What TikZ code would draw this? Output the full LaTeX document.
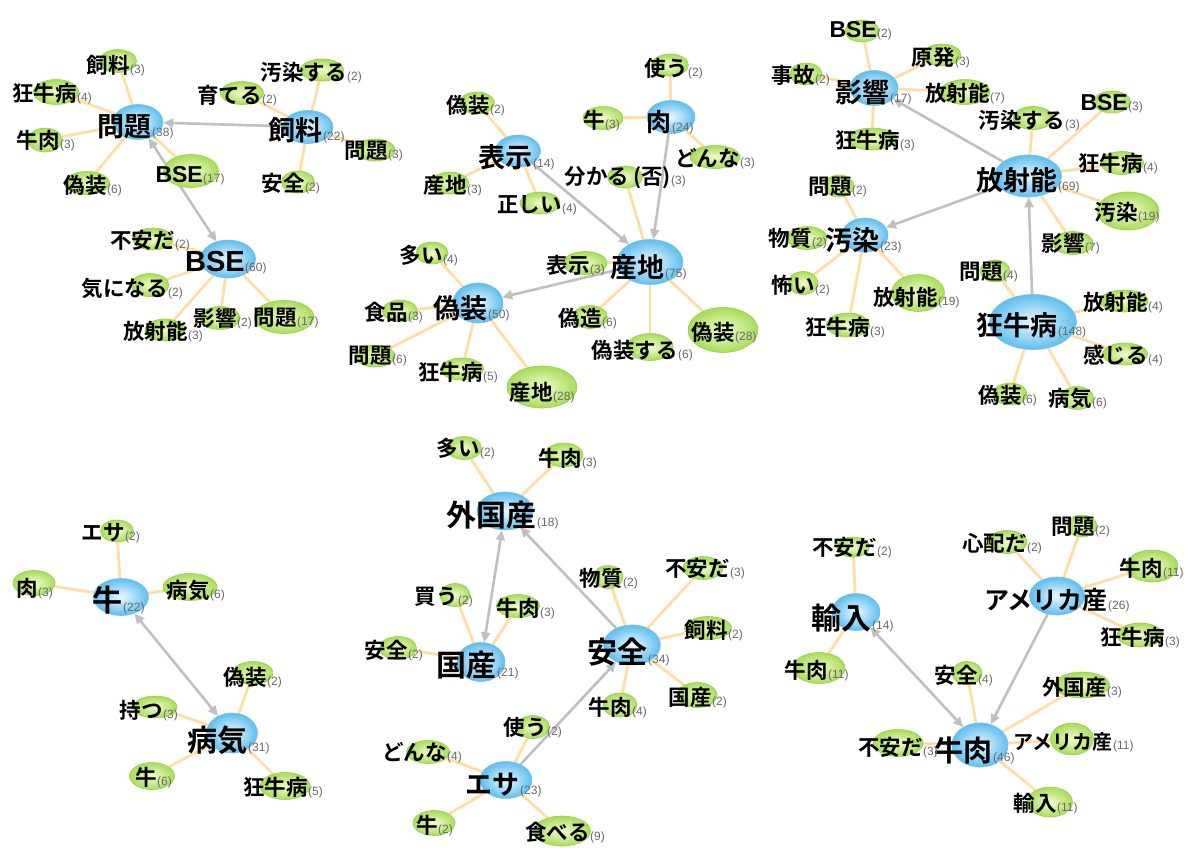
\documentclass[tikz,border=0pt]{standalone}
\usepackage{fontspec}
\usetikzlibrary{shapes.geometric,arrows.meta}
\newfontfamily\jp{Noto Sans CJK JP}[BoldFont={Noto Sans CJK JP Bold}]
\newfontfamily\lat{Liberation Sans}
\newcommand\fs[1]{\fontsize{#1}{#1}\selectfont}
\definecolor{bOut}{RGB}{95,190,238}
\definecolor{bIn}{RGB}{236,248,255}
\definecolor{bEdge}{RGB}{110,195,235}
\definecolor{gOut}{RGB}{168,220,90}
\definecolor{gIn}{RGB}{240,252,205}
\definecolor{gEdge}{RGB}{150,210,65}
\definecolor{oLine}{RGB}{255,222,165}
\definecolor{aLine}{RGB}{192,192,192}
\definecolor{cntC}{RGB}{105,105,105}
\pgfdeclarelayer{paper}
\pgfdeclarelayer{background}
\pgfdeclarelayer{fg}
\pgfsetlayers{paper,background,main,fg}
\tikzset{
  bell/.style={ellipse, inner sep=0pt, draw=bEdge, line width=0.6pt, inner color=bIn, outer color=bOut},
  gell/.style={ellipse, inner sep=0pt, draw=gEdge, line width=0.6pt, inner color=gIn, outer color=gOut},
  btxt/.style={inner sep=0pt, font=\jp\bfseries\fs{27}},
  gtxt/.style={inner sep=0pt, font=\jp\bfseries\fs{21.5}},
  ctxt/.style={inner sep=0pt, text=cntC, font=\lat\fs{12}},
  oedge/.style={draw=oLine, line width=2.8pt},
  gedge/.style={draw=aLine, line width=2.6pt, -{Triangle[length=10pt,width=9pt]}},
  gdbl/.style={draw=aLine, line width=2.6pt, {Triangle[length=10pt,width=9pt]}-{Triangle[length=10pt,width=9pt]}},
}
% name, ex, ey, w, h, junction x, text y, label, count
\newcommand\bn[9]{%
  \node[bell, minimum width=#4pt, minimum height=#5pt] (#1) at (#2,#3) {};
  \begin{pgfonlayer}{fg}
    \node[btxt, anchor=east] (#1-t) at (#6,#7) {#8};
    \node[ctxt, anchor=base west] (#1-c) at (#1-t.base east) {(#9)};
  \end{pgfonlayer}}
\newcommand\gn[9]{%
  \node[gell, minimum width=#4pt, minimum height=#5pt] (#1) at (#2,#3) {};
  \begin{pgfonlayer}{fg}
    \node[gtxt, anchor=east] (#1-t) at (#6,#7) {#8};
    \node[ctxt, anchor=base west] (#1-c) at (#1-t.base east) {(#9)};
  \end{pgfonlayer}}
\begin{document}
\begin{tikzpicture}[x=1pt,y=-1pt]
\begin{pgfonlayer}{paper}
\fill[white] (0,0) rectangle (1193,847);
\end{pgfonlayer}
\useasboundingbox (0,0) rectangle (1193,847);
% ---------- cluster 1
\bn{mondai}{138}{122}{50}{35}{152}{127}{問題}{38}
\gn{c1shiryo}{118}{61}{37}{23}{130}{65}{飼料}{3}
\gn{c1kyo}{56}{92}{45}{25}{77}{93}{狂牛病}{4}
\gn{c1gyu}{45}{140}{34}{24}{60}{140}{牛肉}{3}
\gn{c1giso}{87}{183}{45}{23}{107}{185}{偽装}{6}
\gn{c1bse}{191}{171}{55}{33}{203}{175}{\fs{23}\lat BSE}{17}
\bn{shiryo}{308}{127}{50}{33}{323}{130}{飼料}{22}
\gn{c1osen}{322}{70}{43}{22}{347}{72}{汚染する}{2}
\gn{c1sodat}{242}{93}{43}{23}{262}{95}{育てる}{2}
\gn{c1mon3}{375}{150}{40}{22}{388}{151}{問題}{3}
\gn{c1anzen}{298}{182}{33}{22}{305}{183}{安全}{2}
\bn{bse}{228}{259}{55}{38}{245}{262}{\fs{29}\lat BSE}{60}
\gn{c1fuan}{153}{239}{40}{22}{175}{240}{不安だ}{2}
\gn{c1kini}{150}{285}{38}{23}{168}{288}{気になる}{2}
\gn{c1hosha}{165}{330}{40}{22}{188}{331}{放射能}{3}
\gn{c1eikyo}{220}{318}{40}{23}{237}{318}{影響}{2}
\gn{c1mon17}{284}{317}{60}{33}{297}{318}{問題}{17}
% ---------- cluster 2
\bn{hyoji}{518}{151}{45}{32}{533}{157}{表示}{14}
\gn{c2giso2}{477}{103}{35}{22}{490}{105}{偽装}{2}
\gn{c2sanchi3}{450}{183}{37}{22}{467}{185}{産地}{3}
\gn{c2tadashii}{540}{203}{40}{22}{562}{205}{正しい}{4}
\bn{niku}{671}{117}{48}{33}{672}{122}{\fs{25}肉}{24}
\gn{c2tsukau}{670}{65}{37}{22}{688}{68}{使う}{2}
\gn{c2ushi}{603}{118}{40}{23}{605}{120}{牛}{3}
\gn{c2donna}{715}{157}{50}{23}{740}{158}{どんな}{3}
\bn{sanchi}{650}{262}{66}{45}{665}{267}{産地}{75}
\gn{c2wakaru}{625}{177}{35}{22}{671}{178}{分かる\,(否)\hspace{3pt}}{3}
\gn{c2hyoji3}{585}{263}{44}{23}{590}{265}{表示}{3}
\gn{c2gizo}{590}{317}{35}{23}{602}{318}{偽造}{6}
\gn{c2gisosuru}{650}{347}{46}{27}{678}{350}{偽装する}{6}
\gn{c2giso28}{723}{330}{70}{45}{735}{332}{偽装}{28}
\bn{giso}{478}{303}{50}{40}{488}{308}{偽装}{50}
\gn{c2ooi}{432}{253}{32}{22}{443}{255}{多い}{4}
\gn{c2shokuhin}{400}{311}{35}{22}{408}{312}{食品}{3}
\gn{c2mon6}{375}{356}{40}{22}{392}{356}{問題}{6}
\gn{c2kyo5}{462}{369}{43}{22}{483}{372}{狂牛病}{5}
\gn{c2sanchi28}{542}{387}{70}{42}{553}{392}{産地}{28}
% ---------- cluster 3
\bn{eikyo}{874}{88}{48}{35}{890}{92}{影響}{17}
\gn{c3bse}{862}{31}{34}{22}{877}{30}{\fs{23}\lat BSE}{2}
\gn{c3jiko}{806}{74}{32}{22}{815}{75}{事故}{2}
\gn{c3genpatsu}{942}{55}{38}{22}{955}{57}{原発}{3}
\gn{c3hosha7}{965}{92}{50}{25}{990}{93}{放射能}{7}
\gn{c3kyo3}{872}{139}{50}{22}{900}{140}{狂牛病}{3}
\bn{hosha}{1028}{176}{67}{42}{1058}{180}{放射能}{69}
\gn{c3osensuru}{1033}{118}{40}{23}{1065}{120}{汚染する}{3}
\gn{c3bse3}{1112}{102}{37}{22}{1128}{103}{\fs{23}\lat BSE}{3}
\gn{c3kyo4}{1122}{163}{43}{23}{1143}{163}{狂牛病}{4}
\gn{c3osen19}{1128}{211}{62}{38}{1138}{212}{汚染}{19}
\gn{c3eikyo7}{1073}{243}{40}{23}{1085}{243}{影響}{7}
\bn{osen}{865}{235}{46}{34}{880}{240}{汚染}{23}
\gn{c3mon2}{839}{186}{30}{22}{852}{187}{問題}{2}
\gn{c3busshitsu}{807}{238}{40}{23}{812}{238}{物質}{2}
\gn{c3kowai}{803}{283}{30}{23}{815}{285}{怖い}{2}
\gn{c3hosha19}{918}{293}{53}{37}{938}{297}{放射能}{19}
\gn{c3kyo3b}{848}{325}{43}{24}{870}{327}{狂牛病}{3}
\bn{kyogyu}{1033}{322}{87}{55}{1058}{325}{狂牛病}{148}
\gn{c3mon4}{995}{271}{30}{22}{1003}{272}{問題}{4}
\gn{c3hosha4}{1124}{301}{48}{22}{1148}{302}{放射能}{4}
\gn{c3kanjiru}{1125}{354}{45}{22}{1148}{355}{感じる}{4}
\gn{c3giso6}{1010}{394}{34}{22}{1022}{395}{偽装}{6}
\gn{c3byoki6}{1077}{398}{33}{23}{1092}{398}{病気}{6}
% ---------- cluster 4
\bn{ushi}{121}{597}{55}{37}{123}{600}{\fs{30}牛}{22}
\gn{c4esa}{117}{531}{33}{22}{125}{533}{エサ}{2}
\gn{c4niku}{34}{583}{42}{25}{38}{588}{肉}{3}
\gn{c4byoki}{190}{587}{54}{27}{210}{590}{病気}{6}
\bn{byoki}{232}{733}{51}{40}{248}{740}{\fs{30}病気}{31}
\gn{c4giso}{253}{673}{40}{23}{267}{677}{偽装}{2}
\gn{c4motsu}{155}{707}{44}{22}{163}{710}{持つ}{3}
\gn{c4ushi6}{152}{776}{45}{27}{157}{777}{牛}{6}
\gn{c4kyo5}{285}{786}{50}{27}{308}{787}{狂牛病}{5}
% ---------- cluster 5
\bn{gaikoku}{505}{511}{56}{38}{537}{515}{\fs{30}外国産}{18}
\gn{c5ooi}{464}{448}{35}{23}{480}{448}{多い}{2}
\gn{c5gyuniku}{564}{455}{38}{24}{582}{458}{牛肉}{3}
\bn{kokusan}{481}{662}{48}{39}{497}{665}{\fs{30}国産}{21}
\gn{c5kau}{455}{595}{30}{23}{458}{597}{買う}{2}
\gn{c5gyuniku3}{518}{606}{43}{23}{540}{608}{牛肉}{3}
\gn{c5anzen2}{398}{648}{37}{23}{408}{650}{安全}{2}
\bn{anzen}{632}{645}{57}{40}{648}{652}{\fs{30}安全}{34}
\gn{c5busshitsu}{608}{577}{30}{23}{623}{578}{物質}{2}
\gn{c5fuan}{703}{568}{40}{23}{730}{568}{不安だ}{3}
\gn{c5shiryo}{708}{628}{47}{23}{728}{630}{飼料}{2}
\gn{c5gyuniku4}{620}{705}{34}{24}{632}{707}{牛肉}{4}
\gn{c5kokusan2}{697}{695}{40}{25}{712}{697}{国産}{2}
\bn{esa}{506}{780}{52}{37}{520}{785}{エサ}{23}
\gn{c5tsukau}{533}{727}{33}{23}{547}{727}{使う}{2}
\gn{c5donna}{428}{752}{43}{23}{447}{752}{どんな}{4}
\gn{c5ushi}{434}{823}{42}{25}{438}{825}{牛}{2}
\gn{c5taberu}{562}{831}{57}{30}{590}{832}{食べる}{9}
% ---------- cluster 6
\bn{yunyu}{856}{612}{48}{37}{872}{618}{\fs{30}輸入}{14}
\gn{c6fuan}{853}{547}{33}{20}{877}{547}{不安だ}{2}
\gn{c6gyuniku11}{819}{668}{52}{31}{828}{670}{牛肉}{11}
\bn{amerika}{1057}{596}{55}{38}{1108}{600}{\fs{25}アメリカ産}{26}
\gn{c6shinpai}{1007}{542}{40}{23}{1027}{543}{心配だ}{2}
\gn{c6mon2}{1082}{526}{30}{22}{1095}{527}{問題}{2}
\gn{c6gyuniku11b}{1152}{566}{52}{32}{1163}{568}{牛肉}{11}
\gn{c6kyo3}{1140}{635}{46}{24}{1165}{637}{狂牛病}{3}
\bn{gyuniku}{980}{745}{56}{44}{993}{750}{\fs{29}牛肉}{46}
\gn{c6anzen4}{967}{673}{30}{23}{978}{675}{安全}{4}
\gn{c6gaikoku3}{1082}{685}{55}{26}{1107}{687}{外国産}{3}
\gn{c6amerika11}{1072}{739}{43}{32}{1113}{742}{\fs{20}アメリカ産}{11}
\gn{c6fuan3}{898}{743}{50}{27}{923}{747}{不安だ}{3}
\gn{c6yunyu11}{1050}{802}{45}{30}{1057}{803}{輸入}{11}
% ---------- connectors
\begin{pgfonlayer}{background}
\foreach \a/\b in {mondai/c1shiryo, mondai/c1kyo, mondai/c1gyu, mondai/c1giso, mondai/c1bse,
  shiryo/c1osen, shiryo/c1sodat, shiryo/c1mon3, shiryo/c1anzen,
  bse/c1fuan, bse/c1kini, bse/c1hosha, bse/c1eikyo, bse/c1mon17,
  hyoji/c2giso2, hyoji/c2sanchi3, hyoji/c2tadashii,
  niku/c2tsukau, niku/c2ushi, niku/c2donna,
  sanchi/c2wakaru, sanchi/c2hyoji3, sanchi/c2gizo, sanchi/c2gisosuru, sanchi/c2giso28,
  giso/c2ooi, giso/c2shokuhin, giso/c2mon6, giso/c2kyo5, giso/c2sanchi28,
  eikyo/c3bse, eikyo/c3jiko, eikyo/c3genpatsu, eikyo/c3hosha7, eikyo/c3kyo3,
  hosha/c3osensuru, hosha/c3bse3, hosha/c3kyo4, hosha/c3osen19, hosha/c3eikyo7,
  osen/c3mon2, osen/c3busshitsu, osen/c3kowai, osen/c3hosha19, osen/c3kyo3b,
  kyogyu/c3mon4, kyogyu/c3hosha4, kyogyu/c3kanjiru, kyogyu/c3giso6, kyogyu/c3byoki6,
  ushi/c4esa, ushi/c4niku, ushi/c4byoki,
  byoki/c4giso, byoki/c4motsu, byoki/c4ushi6, byoki/c4kyo5,
  gaikoku/c5ooi, gaikoku/c5gyuniku,
  kokusan/c5kau, kokusan/c5gyuniku3, kokusan/c5anzen2,
  anzen/c5busshitsu, anzen/c5fuan, anzen/c5shiryo, anzen/c5gyuniku4, anzen/c5kokusan2,
  esa/c5tsukau, esa/c5donna, esa/c5ushi, esa/c5taberu,
  yunyu/c6fuan, yunyu/c6gyuniku11,
  amerika/c6shinpai, amerika/c6mon2, amerika/c6gyuniku11b, amerika/c6kyo3,
  gyuniku/c6anzen4, gyuniku/c6gaikoku3, gyuniku/c6amerika11, gyuniku/c6fuan3, gyuniku/c6yunyu11}
  {\draw[oedge] (\a) -- (\b);}
\draw[gedge] (shiryo) -- (mondai);
\draw[gdbl] (mondai) -- (bse);
\draw[gedge] (hyoji) -- (sanchi);
\draw[gedge] (niku) -- (sanchi);
\draw[gedge] (sanchi) -- (giso);
\draw[gedge] (hosha) -- (eikyo);
\draw[gedge] (hosha) -- (osen);
\draw[gedge] (kyogyu) -- (hosha);
\draw[gdbl] (ushi) -- (byoki);
\draw[gdbl] (gaikoku) -- (kokusan);
\draw[gedge] (anzen) -- (gaikoku);
\draw[gedge] (esa) -- (anzen);
\draw[gdbl] (yunyu) -- (gyuniku);
\draw[gedge] (amerika) -- (gyuniku);
\end{pgfonlayer}
\end{tikzpicture}
\end{document}
